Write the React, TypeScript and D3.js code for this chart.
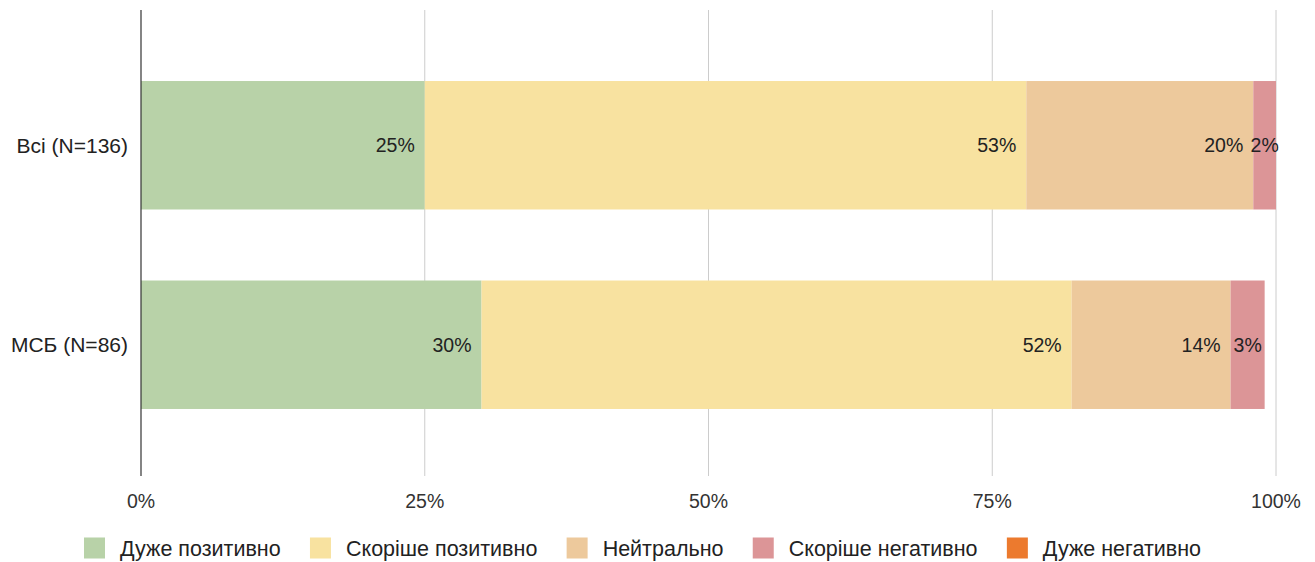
import React, { useEffect, useRef } from "react";
import * as d3 from "d3";

const categories = ["Всі (N=136)", "МСБ (N=86)"];
const seriesNames = ["Дуже позитивно", "Скоріше позитивно", "Нейтрально", "Скоріше негативно", "Дуже негативно"];
const seriesColors = ["#b8d2a8", "#f8e2a0", "#edc99c", "#dc9597", "#ec7a2e"];
const veryPositive = [25, 30];
const ratherPositive = [53, 52];
const neutral = [20, 14];
const ratherNegative = [2, 3];
const veryNegative = [0, 0];
const xTicks = [0, 25, 50, 75, 100];

const W = 1315;
const H = 562;
const FONT = "'Liberation Sans', Arial, sans-serif";

export default function App() {
  const ref = useRef<SVGSVGElement | null>(null);

  useEffect(() => {
    const svg = d3.select(ref.current);
    svg.selectAll("*").remove();

    const x = d3.scaleLinear().domain([0, 100]).range([141, 1276]);
    const y = d3.scaleBand<string>().domain(categories).range([12, 478]).paddingInner(0.356).paddingOuter(0.346);
    const lineTop = 10;
    const lineBottom = 476;

    const seriesValues = [veryPositive, ratherPositive, neutral, ratherNegative, veryNegative];

    // gridlines
    svg.append("g")
      .selectAll("line")
      .data(xTicks.filter((t) => t !== 0))
      .join("line")
      .attr("x1", (d) => x(d))
      .attr("x2", (d) => x(d))
      .attr("y1", lineTop)
      .attr("y2", lineBottom)
      .attr("stroke", "#cccccc")
      .attr("stroke-width", 1);

    // bars
    const barsG = svg.append("g");
    const labels: { x0: number; x1: number; yc: number; text: string }[] = [];
    categories.forEach((cat, ci) => {
      let acc = 0;
      seriesValues.forEach((vals, si) => {
        const v = vals[ci];
        if (v <= 0) return;
        const x0 = x(acc);
        const x1 = x(acc + v);
        barsG.append("rect")
          .attr("x", x0)
          .attr("y", y(cat)!)
          .attr("width", x1 - x0)
          .attr("height", y.bandwidth())
          .attr("fill", seriesColors[si]);
        labels.push({ x0, x1, yc: y(cat)! + y.bandwidth() / 2, text: `${v}%` });
        acc += v;
      });
    });

    // axis line at 0
    svg.append("line")
      .attr("x1", x(0))
      .attr("x2", x(0))
      .attr("y1", lineTop)
      .attr("y2", lineBottom)
      .attr("stroke", "#333333")
      .attr("stroke-width", 1.2);

    // data labels
    const lblG = svg.append("g");
    labels.forEach((l) => {
      const t = lblG.append("text")
        .attr("font-family", FONT)
        .attr("font-size", 19.5)
        .attr("fill", "#222222")
        .attr("dy", "0.35em")
        .attr("y", l.yc)
        .text(l.text);
      const tw = (t.node() as SVGTextElement).getComputedTextLength();
      const w = l.x1 - l.x0;
      if (w >= tw + 20) {
        t.attr("x", l.x1 - 10).attr("text-anchor", "end");
      } else {
        t.attr("x", (l.x0 + l.x1) / 2).attr("text-anchor", "middle");
      }
    });

    // category labels
    svg.append("g")
      .selectAll("text")
      .data(categories)
      .join("text")
      .attr("x", 128)
      .attr("y", (d) => y(d)! + y.bandwidth() / 2)
      .attr("dy", "0.35em")
      .attr("text-anchor", "end")
      .attr("font-family", FONT)
      .attr("font-size", 21)
      .attr("fill", "#222222")
      .text((d) => d);

    // x tick labels
    svg.append("g")
      .selectAll("text")
      .data(xTicks)
      .join("text")
      .attr("x", (d) => x(d))
      .attr("y", 501)
      .attr("dy", "0.35em")
      .attr("text-anchor", "middle")
      .attr("font-family", FONT)
      .attr("font-size", 19.5)
      .attr("fill", "#333333")
      .text((d) => `${d}%`);

    // legend
    const legG = svg.append("g");
    const sq = 21;
    const gapText = 15;
    const legendLeft = 84;
    const legendRight = 1201;
    const items: { g: any; w: number }[] = [];
    seriesNames.forEach((name, i) => {
      const g = legG.append("g");
      g.append("rect").attr("x", 0).attr("y", -sq / 2).attr("width", sq).attr("height", sq).attr("fill", seriesColors[i]);
      const t = g.append("text")
        .attr("x", sq + gapText)
        .attr("y", 0)
        .attr("dy", "0.35em")
        .attr("font-family", FONT)
        .attr("font-size", 21.5)
        .attr("fill", "#222222")
        .text(name);
      const tw = (t.node() as SVGTextElement).getComputedTextLength();
      items.push({ g, w: sq + gapText + tw });
    });
    const sumW = d3.sum(items, (d) => d.w);
    const gapItem = Math.max(20, (legendRight - legendLeft - sumW) / (items.length - 1));
    let cx = legendLeft;
    items.forEach((it) => {
      it.g.attr("transform", `translate(${cx},548)`);
      cx += it.w + gapItem;
    });
  }, []);

  return (
    <svg
      ref={ref}
      width={W}
      height={H}
      style={{ position: "absolute", left: 0, top: 0, display: "block", background: "#ffffff" }}
    />
  );
}
